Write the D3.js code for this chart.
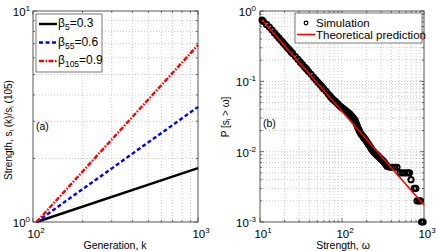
<!DOCTYPE html>
<html>
<head>
<meta charset="utf-8">
<script src="https://cdn.jsdelivr.net/npm/d3@7"></script>
<style>
body { margin: 0; background: #fff; }
text { font-family: "Liberation Sans", Arial, sans-serif; fill: #000; }
</style>
</head>
<body>
<div id="chart"></div>
<script>
// ---- panel (a) data ----
var generation = [105, 1000];
var ratioBeta5 = [1, 1.80];
var ratioBeta55 = [1, 3.51];
var ratioBeta105 = [1, 6.90];
var betaIndex = ["5", "55", "105"];
var betaValue = ["0.3", "0.6", "0.9"];

// ---- panel (b) data ----
var simulation = [
  [10.6, 0.743], [11, 0.707], [12, 0.645], [13, 0.590], [14, 0.535], [15, 0.488],
  [16, 0.448], [17, 0.414], [18, 0.384], [19, 0.358], [20, 0.334], [21, 0.313],
  [22, 0.294], [23, 0.278], [24, 0.262], [25, 0.249], [27, 0.225], [29, 0.205],
  [31, 0.187], [33, 0.173], [35, 0.159], [37, 0.149], [39, 0.138], [42, 0.126],
  [45, 0.114], [48, 0.105], [51, 0.097], [54, 0.090], [57, 0.084], [60, 0.078],
  [64, 0.072], [68, 0.066], [72, 0.061], [74.3, 0.0584], [76.6, 0.056], [79.3, 0.0542],
  [82.1, 0.0525], [85.0, 0.0504], [88.1, 0.0483], [91.2, 0.0464], [94.5, 0.0445],
  [97.9, 0.0431], [101.4, 0.0417], [105.0, 0.0404], [108.8, 0.0391], [112.7, 0.0378],
  [116.7, 0.0366], [120.9, 0.0354], [125.2, 0.0343], [129.7, 0.0327], [134.3, 0.0311],
  [139.1, 0.0296], [144.1, 0.0282], [147.1, 0.0264], [150.2, 0.0247], [153.4, 0.0232],
  [156.7, 0.0217], [160.1, 0.0206], [163.5, 0.0196], [167.0, 0.0187], [170.5, 0.0178],
  [175.4, 0.0171], [180.4, 0.0164], [185.5, 0.0157], [190.8, 0.0151], [196.2, 0.0144],
  [201.8, 0.0137], [207.6, 0.0130], [213.5, 0.0124], [219.6, 0.0118], [225.8, 0.0112],
  [232.2, 0.0107], [238.8, 0.0102], [247.3, 0.0098], [256.1, 0.0094], [265.3, 0.0090],
  [274.8, 0.0087], [284.6, 0.0083], [294.8, 0.0080], [305.3, 0.0077], [316.2, 0.0074],
  [325.2, 0.0071], [334.5, 0.0068], [344.0, 0.0065], [353.8, 0.0062], [379.6, 0.006],
  [407.3, 0.006], [436.8, 0.006], [468.6, 0.006], [509.7, 0.005], [546.8, 0.005],
  [586.6, 0.005], [629.3, 0.005], [665.6, 0.005], [694, 0.004], [760, 0.003],
  [795, 0.003], [822, 0.002], [870, 0.002], [905, 0.002], [935, 0.001], [975, 0.001]
];
var theoryOmega = [10.6, 1000];
var theoryP = [0.745, 0.00174];

// tick labels (exponents of 10)
var xTicksA = [2, 3];
var yTicksA = [0, 1];
var xTicksB = [1, 2, 3];
var yTicksB = [-3, -2, -1, 0];

var svg = d3.select("#chart").append("svg")
  .attr("width", 436)
  .attr("height", 251);

// set the ranges
var xA = d3.scaleLog().domain([100, 1000]).range([33, 198]);
var yA = d3.scaleLog().domain([1, 10]).range([222, 11]);
var xB = d3.scaleLog().domain([10, 1000]).range([260, 424]);
var yB = d3.scaleLog().domain([0.001, 1]).range([222, 11]);

function drawFrame(x, y) {
  var x0 = x.range()[0], x1 = x.range()[1], y0 = y.range()[1], y1 = y.range()[0];
  var g = svg.append("g");
  // dotted grid on every decade subdivision
  x.ticks().forEach(function(t) {
    if (x(t) <= x0 + 0.5 || x(t) >= x1 - 0.5) return;
    g.append("line").attr("x1", x(t)).attr("x2", x(t)).attr("y1", y0).attr("y2", y1)
      .attr("stroke", "#bdbdbd").attr("stroke-width", 0.8).attr("stroke-dasharray", "1,2");
  });
  y.ticks().forEach(function(t) {
    if (y(t) <= y0 + 0.5 || y(t) >= y1 - 0.5) return;
    g.append("line").attr("x1", x0).attr("x2", x1).attr("y1", y(t)).attr("y2", y(t))
      .attr("stroke", "#bdbdbd").attr("stroke-width", 0.8).attr("stroke-dasharray", "1,2");
  });
  // inside ticks on all four sides
  x.ticks().forEach(function(t) {
    var major = Math.abs(Math.log10(t) - Math.round(Math.log10(t))) < 1e-9;
    var len = major ? 4 : 2;
    g.append("line").attr("x1", x(t)).attr("x2", x(t)).attr("y1", y1).attr("y2", y1 - len)
      .attr("stroke", "#333").attr("stroke-width", 0.7);
    g.append("line").attr("x1", x(t)).attr("x2", x(t)).attr("y1", y0).attr("y2", y0 + len)
      .attr("stroke", "#333").attr("stroke-width", 0.7);
  });
  y.ticks().forEach(function(t) {
    var major = Math.abs(Math.log10(t) - Math.round(Math.log10(t))) < 1e-9;
    var len = major ? 4 : 2;
    g.append("line").attr("x1", x0).attr("x2", x0 + len).attr("y1", y(t)).attr("y2", y(t))
      .attr("stroke", "#333").attr("stroke-width", 0.7);
    g.append("line").attr("x1", x1).attr("x2", x1 - len).attr("y1", y(t)).attr("y2", y(t))
      .attr("stroke", "#333").attr("stroke-width", 0.7);
  });
  g.append("rect").attr("x", x0).attr("y", y0).attr("width", x1 - x0).attr("height", y1 - y0)
    .attr("fill", "none").attr("stroke", "#444").attr("stroke-width", 0.9);
}

function powerLabel(x, y, e, anchor) {
  var t = svg.append("text").attr("x", x).attr("y", y)
    .attr("text-anchor", anchor).style("font-size", "11.5px");
  t.append("tspan").text("10");
  t.append("tspan").attr("dy", -5).style("font-size", "8px").text(e);
  return t;
}

drawFrame(xA, yA);
drawFrame(xB, yB);

// tick labels
xTicksA.forEach(function(e) { powerLabel(xA(Math.pow(10, e)) + 3, 238, e, "middle"); });
yTicksA.forEach(function(e) { powerLabel(30, yA(Math.pow(10, e)) + 5, e, "end"); });
xTicksB.forEach(function(e) { powerLabel(xB(Math.pow(10, e)) + 3, 238, e, "middle"); });
yTicksB.forEach(function(e) { powerLabel(256, yB(Math.pow(10, e)) + 5, e, "end"); });

// ---- panel (a) lines ----
var lineA = d3.line()
  .x(function(d) { return xA(d[0]); })
  .y(function(d) { return yA(d[1]); });

var seriesA = [
  { values: ratioBeta5, color: "#000", dash: null },
  { values: ratioBeta55, color: "#0000ff", dash: "4,2.5" },
  { values: ratioBeta105, color: "#ff0000", dash: "5,1.5,1.5,1.5" }
];

seriesA.forEach(function(s) {
  svg.append("path")
    .datum(d3.zip(generation, s.values))
    .attr("d", lineA)
    .attr("fill", "none")
    .attr("stroke", s.color)
    .attr("stroke-width", 2.4)
    .attr("stroke-dasharray", s.dash);
});

// legend (a)
svg.append("rect").attr("x", 36).attr("y", 14).attr("width", 66).attr("height", 58)
  .attr("fill", "#fff").attr("stroke", "#555").attr("stroke-width", 0.8);
seriesA.forEach(function(s, i) {
  var ly = 24 + i * 18.5;
  svg.append("line").attr("x1", 39).attr("x2", 57).attr("y1", ly).attr("y2", ly)
    .attr("stroke", s.color).attr("stroke-width", 2.4).attr("stroke-dasharray", s.dash);
  var t = svg.append("text").attr("x", 58).attr("y", ly + 3).style("font-size", "12px");
  t.append("tspan").text("β");
  t.append("tspan").attr("dy", 3).style("font-size", "8.5px").text(betaIndex[i]);
  t.append("tspan").attr("dy", -3).text("=" + betaValue[i]);
});

svg.append("text").attr("x", 36).attr("y", 130).style("font-size", "10.5px").text("(a)");

// axis labels (a)
svg.append("text").attr("x", 115).attr("y", 249).attr("text-anchor", "middle")
  .style("font-size", "10.5px").text("Generation, k");
var yl = svg.append("text")
  .attr("transform", "translate(12,130) rotate(-90)")
  .attr("text-anchor", "middle").style("font-size", "10px");
yl.append("tspan").text("Strength, s");
yl.append("tspan").attr("dy", 2).style("font-size", "7px").text("i");
yl.append("tspan").attr("dy", -2).text(" (k)/s");
yl.append("tspan").attr("dy", 2).style("font-size", "7px").text("i");
yl.append("tspan").attr("dy", -2).text(" (105)");

// ---- panel (b) ----
svg.append("g").selectAll("circle")
  .data(simulation)
  .enter().append("circle")
  .attr("cx", function(d) { return xB(d[0]); })
  .attr("cy", function(d) { return yB(d[1]); })
  .attr("r", 2.6)
  .attr("fill", "none")
  .attr("stroke", "#000")
  .attr("stroke-width", 2);

svg.append("path")
  .datum(d3.zip(theoryOmega, theoryP))
  .attr("d", d3.line().x(function(d) { return xB(d[0]); }).y(function(d) { return yB(d[1]); }))
  .attr("fill", "none")
  .attr("stroke", "#ff0000")
  .attr("stroke-width", 1.6);

// legend (b)
svg.append("rect").attr("x", 295).attr("y", 13).attr("width", 127).attr("height", 30)
  .attr("fill", "#fff").attr("stroke", "#555").attr("stroke-width", 0.8);
svg.append("circle").attr("cx", 306).attr("cy", 23).attr("r", 1.8)
  .attr("fill", "none").attr("stroke", "#000").attr("stroke-width", 1.2);
svg.append("text").attr("x", 316).attr("y", 27).style("font-size", "11.5px").text("Simulation");
svg.append("line").attr("x1", 297).attr("x2", 315).attr("y1", 34.5).attr("y2", 34.5)
  .attr("stroke", "#ff0000").attr("stroke-width", 1.6);
svg.append("text").attr("x", 316).attr("y", 38.5).style("font-size", "11.5px").text("Theoretical prediction");

svg.append("text").attr("x", 263).attr("y", 127).style("font-size", "10.5px").text("(b)");

// axis labels (b)
svg.append("text").attr("x", 343).attr("y", 249).attr("text-anchor", "middle")
  .style("font-size", "10.5px").text("Strength, ω");
var yl2 = svg.append("text")
  .attr("transform", "translate(229,117) rotate(-90)")
  .attr("text-anchor", "middle").style("font-size", "10px");
yl2.append("tspan").text("P [s");
yl2.append("tspan").attr("dy", 2).style("font-size", "7px").text("i");
yl2.append("tspan").attr("dy", -2).text(" > ω]");
</script>
</body>
</html>
